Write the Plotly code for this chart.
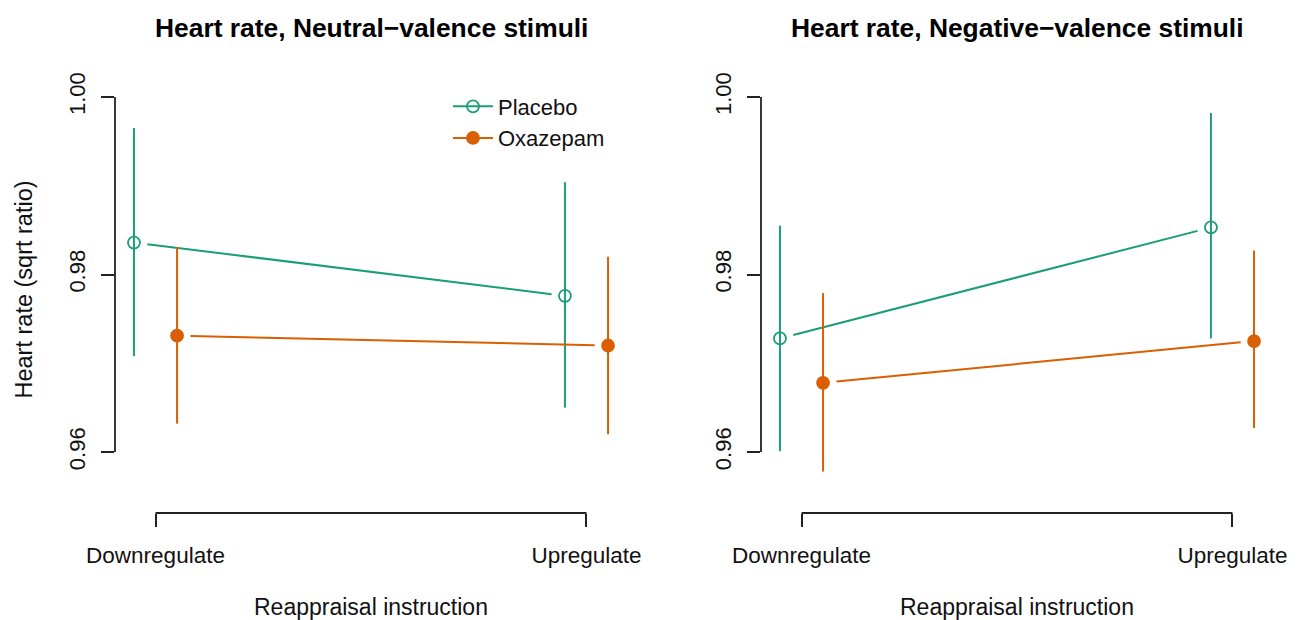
import plotly.graph_objects as go

# ---------------- data ----------------
categories = ["Downregulate", "Upregulate"]
cat_pos = [1, 2]
groups = ["Placebo", "Oxazepam"]
group_offset = [-0.05, 0.05]
group_colors = ["#1B9E77", "#D95F02"]
group_symbols = ["circle-open", "circle"]

panel_titles = ["Heart rate, Neutral\u2212valence stimuli",
                "Heart rate, Negative\u2212valence stimuli"]

# Neutral-valence panel
neutral_placebo_mean = [0.9836, 0.9776]
neutral_placebo_lower = [0.9708, 0.9650]
neutral_placebo_upper = [0.9965, 0.9904]
neutral_oxazepam_mean = [0.9731, 0.9720]
neutral_oxazepam_lower = [0.9632, 0.9620]
neutral_oxazepam_upper = [0.9831, 0.9820]

# Negative-valence panel
negative_placebo_mean = [0.9728, 0.9853]
negative_placebo_lower = [0.9601, 0.9728]
negative_placebo_upper = [0.9855, 0.9982]
negative_oxazepam_mean = [0.9678, 0.9725]
negative_oxazepam_lower = [0.9578, 0.9627]
negative_oxazepam_upper = [0.9779, 0.9827]

y_ticks = [0.96, 0.98, 1.00]
y_ticktext = ["0.96", "0.98", "1.00"]
y_title = "Heart rate (sqrt ratio)"
x_title = "Reappraisal instruction"

panels = [
    [(neutral_placebo_mean, neutral_placebo_lower, neutral_placebo_upper),
     (neutral_oxazepam_mean, neutral_oxazepam_lower, neutral_oxazepam_upper)],
    [(negative_placebo_mean, negative_placebo_lower, negative_placebo_upper),
     (negative_oxazepam_mean, negative_oxazepam_lower, negative_oxazepam_upper)],
]

# ---------------- style / layout helpers ----------------
FONT = "Liberation Sans, Arial, Helvetica, sans-serif"
OFF = 8                      # default page body margin
W, H = 1304 - OFF, 620 - OFF
GAP = 0.031                  # R type="b" gap fraction around points
AX_COL = "#222222"


def fx(page_x):
    return (page_x - OFF) / W


def fy(page_y):
    return 1 - (page_y - OFF) / H


fig = go.Figure()

for p, panel in enumerate(panels):
    xa = "x" if p == 0 else "x2"
    ya = "y" if p == 0 else "y2"
    for g, (mean, lo, hi) in enumerate(panel):
        xs = [c + group_offset[g] for c in cat_pos]
        x0, x1 = xs
        y0, y1 = mean
        lx = [x0 + GAP * (x1 - x0), x1 - GAP * (x1 - x0)]
        ly = [y0 + GAP * (y1 - y0), y1 - GAP * (y1 - y0)]
        fig.add_trace(go.Scatter(
            x=lx, y=ly, mode="lines", xaxis=xa, yaxis=ya,
            line=dict(color=group_colors[g], width=2),
            showlegend=False, hoverinfo="skip"))
        fig.add_trace(go.Scatter(
            x=xs, y=mean, mode="markers", xaxis=xa, yaxis=ya,
            marker=dict(symbol=group_symbols[g], size=12, color=group_colors[g],
                        line=dict(color=group_colors[g], width=1.8)),
            error_y=dict(type="data", symmetric=False,
                         array=[h - m for h, m in zip(hi, mean)],
                         arrayminus=[m - l for m, l in zip(mean, lo)],
                         color=group_colors[g], thickness=2, width=0),
            name=groups[g], showlegend=False))

# legend entries
for g in range(2):
    fig.add_trace(go.Scatter(
        x=[None], y=[None], mode="lines+markers", name=groups[g],
        marker=dict(symbol=group_symbols[g], size=12, color=group_colors[g],
                    line=dict(color=group_colors[g], width=1.8)),
        line=dict(color=group_colors[g], width=2), showlegend=True))

x_domains = [[fx(115), fx(627)], [fx(761), fx(1273)]]
y_domain = [fy(513), fy(66)]
x_range = [0.906, 2.094]
y_range = [0.95313, 1.00349]

common_x = dict(range=x_range, tickvals=cat_pos, ticktext=categories,
                ticks="outside", ticklen=13, tickwidth=1.8, tickcolor=AX_COL,
                showgrid=False, zeroline=False, showline=False, automargin=False,
                tickfont=dict(family=FONT, size=22.5, color="#111"),
                ticklabelstandoff=9)
common_y = dict(range=y_range, domain=y_domain, tickvals=y_ticks, ticktext=y_ticktext,
                tickangle=-90, ticks="outside", ticklen=13, tickwidth=1.8,
                tickcolor=AX_COL, showgrid=False, zeroline=False, showline=False,
                automargin=False,
                tickfont=dict(family=FONT, size=22, color="#111"),
                ticklabelstandoff=7)

fig.update_layout(
    xaxis=dict(domain=x_domains[0], anchor="y", **common_x),
    xaxis2=dict(domain=x_domains[1], anchor="y2", **common_x),
    yaxis=dict(anchor="x", **common_y),
    yaxis2=dict(anchor="x2", **common_y),
)

shapes = []
annotations = []
for p, (xr, yr) in enumerate([("x", "y"), ("x2", "y2")]):
    shapes.append(dict(type="line", xref=f"{xr} domain", yref=yr, x0=0, x1=0,
                       y0=min(y_ticks), y1=max(y_ticks),
                       line=dict(color=AX_COL, width=1.8)))
    shapes.append(dict(type="line", xref=xr, yref=f"{yr} domain",
                       x0=min(cat_pos), x1=max(cat_pos), y0=0, y1=0,
                       line=dict(color=AX_COL, width=1.8)))
    annotations.append(dict(text=f"<b>{panel_titles[p]}</b>", xref=f"{xr} domain", x=0.5,
                            yref="paper", y=fy(28), xanchor="center", yanchor="middle",
                            showarrow=False, font=dict(family=FONT, size=26.4, color="#000")))
    annotations.append(dict(text=x_title, xref=f"{xr} domain", x=0.5,
                            yref="paper", y=fy(607), xanchor="center", yanchor="middle",
                            showarrow=False, font=dict(family=FONT, size=23, color="#111")))

annotations.append(dict(text=y_title, xref="paper", x=fx(23), yref="y domain", y=0.5,
                        textangle=-90, xanchor="center", yanchor="middle", showarrow=False,
                        font=dict(family=FONT, size=23.5, color="#111")))

fig.update_layout(
    shapes=shapes, annotations=annotations,
    width=W, height=H, margin=dict(l=0, r=0, t=0, b=0, autoexpand=False),
    paper_bgcolor="white", plot_bgcolor="white",
    showlegend=True,
    legend=dict(x=fx(448), y=fy(85.5), xanchor="left", yanchor="top",
                font=dict(family=FONT, size=22, color="#111"),
                bgcolor="rgba(0,0,0,0)", itemwidth=40, tracegroupgap=0),
)

fig.write_html("out.html")
